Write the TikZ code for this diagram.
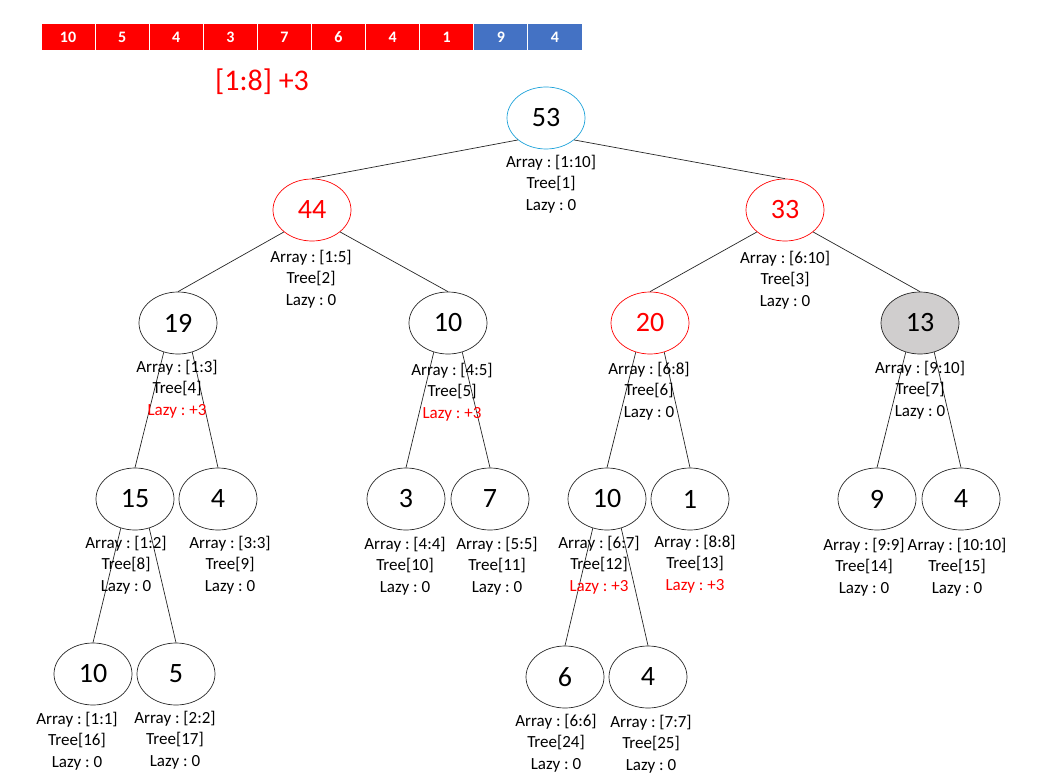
\documentclass[tikz,border=0pt]{standalone}
\usepackage{fontspec}
\setmainfont{Carlito}
\usepackage{xcolor}
\usetikzlibrary{shapes.geometric, positioning}

\definecolor{cellblue}{HTML}{4472C4}
\definecolor{rootblue}{HTML}{1BA1D9}
\definecolor{leafgray}{HTML}{D0CECE}
\frenchspacing

\begin{document}
\begin{tikzpicture}[x=1pt, y=-1pt,
    tnode/.style={ellipse, draw=black!85, line width=0.7pt, minimum width=78pt, minimum height=62pt, inner sep=0pt, font=\fontsize{28}{30}\selectfont},
    hot/.style={draw=red, text=red},
    info/.style={align=center, inner sep=0pt, font=\fontsize{17}{21.5}\selectfont},
    cell/.style={draw=white, line width=1pt, minimum width=54.1pt, minimum height=27pt, inner sep=0pt, text=white, font=\fontsize{16}{17}\selectfont\bfseries},
    edge/.style={black!85, line width=0.7pt}]
    \useasboundingbox (0,0) rectangle (1047,781);

    % Input array
    \foreach \v/\c [count=\i] in {10/red,5/red,4/red,3/red,7/red,6/red,4/red,1/red,9/cellblue,4/cellblue}
        \node[cell, fill=\c] (cell\i) at ({41+54.1*(\i-0.5)},37.5) {\v};

    % Update query
    \node[text=red, font=\fontsize{30}{32}\selectfont] (query) at (262,82) {[1:8] +3};

    % Tree nodes
    \node[tnode, draw=rootblue] (n1) at (546,118) {53};
    \node[tnode, hot] (n2) at (312,210) {44};
    \node[tnode, hot] (n3) at (785,210) {33};
    \node[tnode] (n4) at (178,323) {19};
    \node[tnode] (n5) at (448,323) {10};
    \node[tnode, hot] (n6) at (650,323) {20};
    \node[tnode, fill=leafgray] (n7) at (920,323) {13};
    \node[tnode] (n8) at (135,499) {15};
    \node[tnode] (n9) at (218,499) {4};
    \node[tnode] (n10) at (406,499) {3};
    \node[tnode] (n11) at (490,499) {7};
    \node[tnode] (n12) at (607,499) {10};
    \node[tnode] (n13) at (690,499) {1};
    \node[tnode] (n14) at (877,499) {9};
    \node[tnode] (n15) at (961,499) {4};
    \node[tnode] (n16) at (93,674) {10};
    \node[tnode] (n17) at (176,674) {5};
    \node[tnode] (n24) at (565,677) {6};
    \node[tnode] (n25) at (648,677) {4};

    % Edges
    \draw[edge] (n1.-142) -- (n2.north);
    \draw[edge] (n1.-38) -- (n3.north);
    \draw[edge] (n2.-142) -- (n4.north);
    \draw[edge] (n2.-38) -- (n5.north);
    \draw[edge] (n3.-142) -- (n6.north);
    \draw[edge] (n3.-38) -- (n7.north);
    \foreach \p/\l/\r in {n4/n8/n9, n5/n10/n11, n6/n12/n13, n7/n14/n15, n8/n16/n17, n12/n24/n25} {
        \draw[edge] (\p.-116) -- (\l.north);
        \draw[edge] (\p.-64) -- (\r.north);
    }

    % Node info
    \node[info] (i1) at (551,184) {Array : [1:10]\\Tree[1]\\Lazy : 0};
    \node[info] (i2) at (311,279) {Array : [1:5]\\Tree[2]\\Lazy : 0};
    \node[info] (i3) at (785,280) {Array : [6:10]\\Tree[3]\\Lazy : 0};
    \node[info] (i4) at (177,389) {Array : [1:3]\\Tree[4]\\\textcolor{red}{Lazy : +3}};
    \node[info] (i5) at (452,392) {Array : [4:5]\\Tree[5]\\\textcolor{red}{Lazy : +3}};
    \node[info] (i6) at (649,391) {Array : [6:8]\\Tree[6]\\Lazy : 0};
    \node[info] (i7) at (920,390) {Array : [9:10]\\Tree[7]\\Lazy : 0};
    \node[info] (i8) at (126,565) {Array : [1:2]\\Tree[8]\\Lazy : 0};
    \node[info] (i9) at (230,565) {Array : [3:3]\\Tree[9]\\Lazy : 0};
    \node[info] (i10) at (405,566) {Array : [4:4]\\Tree[10]\\Lazy : 0};
    \node[info] (i11) at (497,566) {Array : [5:5]\\Tree[11]\\Lazy : 0};
    \node[info] (i12) at (599,565) {Array : [6:7]\\Tree[12]\\\textcolor{red}{Lazy : +3}};
    \node[info] (i13) at (695,564) {Array : [8:8]\\Tree[13]\\\textcolor{red}{Lazy : +3}};
    \node[info] (i14) at (864,567) {Array : [9:9]\\Tree[14]\\Lazy : 0};
    \node[info] (i15) at (957,567) {Array : [10:10]\\Tree[15]\\Lazy : 0};
    \node[info] (i16) at (77,741) {Array : [1:1]\\Tree[16]\\Lazy : 0};
    \node[info] (i17) at (175,740) {Array : [2:2]\\Tree[17]\\Lazy : 0};
    \node[info] (i24) at (556,743) {Array : [6:6]\\Tree[24]\\Lazy : 0};
    \node[info] (i25) at (651,744) {Array : [7:7]\\Tree[25]\\Lazy : 0};
\end{tikzpicture}
\end{document}
